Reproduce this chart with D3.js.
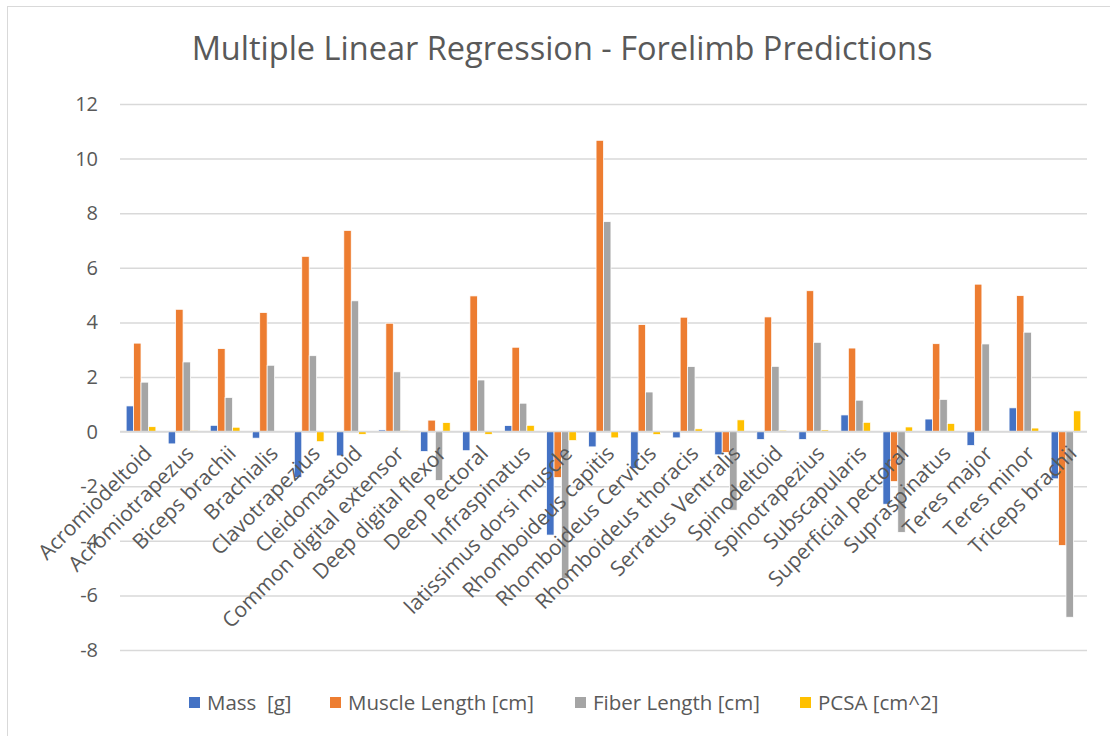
<!DOCTYPE html>
<html>
<head>
<meta charset="utf-8">
<script src="https://cdn.jsdelivr.net/npm/d3@7"></script>
<style>
  html, body { margin: 0; padding: 0; background: #fff; }
  svg { display: block; font-family: "Open Sans", "Noto Sans", sans-serif; }
</style>
</head>
<body>
<svg id="chart" width="1110" height="736"></svg>
<script>
// Muscles of the forelimb
const muscles = [
  "Acromiodeltoid", "Acromiotrapezus", "Biceps brachii", "Brachialis",
  "Clavotrapezius", "Cleidomastoid", "Common digital extensor",
  "Deep digital flexor", "Deep Pectoral", "Infraspinatus",
  "latissimus dorsi muscle", "Rhomboideus capitis", "Rhomboideus Cervicis",
  "Rhomboideus thoracis", "Serratus Ventralis", "Spinodeltoid",
  "Spinotrapezius", "Subscapularis", "Superficial pectoral",
  "Supraspinatus", "Teres major", "Teres minor", "Triceps brachii"
];

// Predicted values per series
const mass = [0.94, -0.45, 0.23, -0.24, -1.68, -0.89, 0.06, -0.73, -0.70, 0.22,
  -3.79, -0.56, -1.35, -0.23, -0.85, -0.29, -0.29, 0.61, -2.66, 0.46, -0.51, 0.87, -1.73];
const muscleLength = [3.24, 4.48, 3.04, 4.36, 6.42, 7.37, 3.97, 0.42, 4.97, 3.09,
  -1.68, 10.67, 3.92, 4.19, -0.76, 4.20, 5.16, 3.06, -1.83, 3.22, 5.40, 4.98, -4.17];
const fiberLength = [1.81, 2.55, 1.25, 2.43, 2.78, 4.79, 2.19, -1.79, 1.89, 1.04,
  -5.39, 7.69, 1.45, 2.38, -2.88, 2.39, 3.27, 1.15, -3.69, 1.18, 3.21, 3.64, -6.80];
const pcsa = [0.18, 0.03, 0.16, 0.01, -0.37, -0.10, 0.03, 0.33, -0.10, 0.23,
  -0.33, -0.23, -0.11, 0.10, 0.43, 0.05, 0.06, 0.34, 0.17, 0.30, 0.01, 0.13, 0.76];

const seriesNames = ["Mass  [g]", "Muscle Length [cm]", "Fiber Length [cm]", "PCSA [cm^2]"];
const seriesColors = ["#4472C4", "#ED7D31", "#A5A5A5", "#FFC000"];
const seriesValues = [mass, muscleLength, fiberLength, pcsa];

const yTicks = [-8, -6, -4, -2, 0, 2, 4, 6, 8, 10, 12];

const svg = d3.select("#chart");
const W = 1110, H = 736;
const plot = { left: 120, right: 1087, top: 104, bottom: 650 };
const textColor = "#595959";

// Chart area frame
svg.append("rect")
  .attr("x", 7.5).attr("y", 6.5)
  .attr("width", W + 10).attr("height", H + 10)
  .attr("fill", "#fff").attr("stroke", "#d9d9d9").attr("stroke-width", 1);

// Title
svg.append("text")
  .attr("x", 562).attr("y", 60)
  .attr("text-anchor", "middle")
  .attr("fill", textColor)
  .style("font-size", "32.5px")
  .text("Multiple Linear Regression - Forelimb Predictions");

const y = d3.scaleLinear().domain([-8, 12]).range([plot.bottom, plot.top]);
const x0 = d3.scaleBand().domain(muscles).range([plot.left, plot.right])
  .paddingInner(0.293).paddingOuter(0.1465);
const x1 = d3.scaleBand().domain(d3.range(4)).range([0, x0.bandwidth()]);

// Horizontal gridlines with value labels
const yAxis = d3.axisLeft(y).tickValues(yTicks)
  .tickFormat(d => String(d))
  .tickSize(-(plot.right - plot.left)).tickPadding(22);
const gy = svg.append("g").attr("transform", `translate(${plot.left},0)`).call(yAxis);
gy.select(".domain").remove();
gy.selectAll(".tick line").attr("stroke", "#d9d9d9").attr("stroke-width", 1.5);
gy.selectAll(".tick text").attr("fill", textColor)
  .style("font-size", "20px").style("font-family", "'Open Sans', sans-serif");

// Bars
const groups = svg.append("g").selectAll("g")
  .data(muscles)
  .join("g")
  .attr("transform", d => `translate(${x0(d)},0)`);

groups.selectAll("rect")
  .data((d, i) => seriesValues.map((vals, s) => ({ s, v: vals[i] })))
  .join("rect")
  .attr("x", d => x1(d.s))
  .attr("width", x1.bandwidth())
  .attr("y", d => y(Math.max(0, d.v)))
  .attr("height", d => Math.abs(y(d.v) - y(0)))
  .attr("fill", d => seriesColors[d.s])
  .attr("stroke", "#fff")
  .attr("stroke-width", 0.75);

// Zero baseline
svg.append("line")
  .attr("x1", plot.left).attr("x2", plot.right)
  .attr("y1", y(0)).attr("y2", y(0))
  .attr("stroke", "#d9d9d9").attr("stroke-width", 1.5);

// Category labels, rotated
svg.append("g").selectAll("text")
  .data(muscles)
  .join("text")
  .attr("transform", d => `translate(${x0(d) + x0.bandwidth() / 2 + 1},${y(0) + 12}) rotate(-45)`)
  .attr("text-anchor", "end")
  .attr("dy", "0.75em")
  .attr("fill", textColor)
  .style("font-size", "21px")
  .text(d => d);

// Legend
const legendX = [189, 330, 575, 800];
const legend = svg.append("g").selectAll("g")
  .data(seriesNames)
  .join("g")
  .attr("transform", (d, i) => `translate(${legendX[i]},697)`);
legend.append("rect")
  .attr("width", 11).attr("height", 11)
  .attr("fill", (d, i) => seriesColors[i]);
legend.append("text")
  .attr("x", 18).attr("y", 6)
  .attr("dy", "0.35em")
  .attr("fill", textColor)
  .style("font-size", "20.5px")
  .style("white-space", "pre")
  .text(d => d);
</script>
</body>
</html>
